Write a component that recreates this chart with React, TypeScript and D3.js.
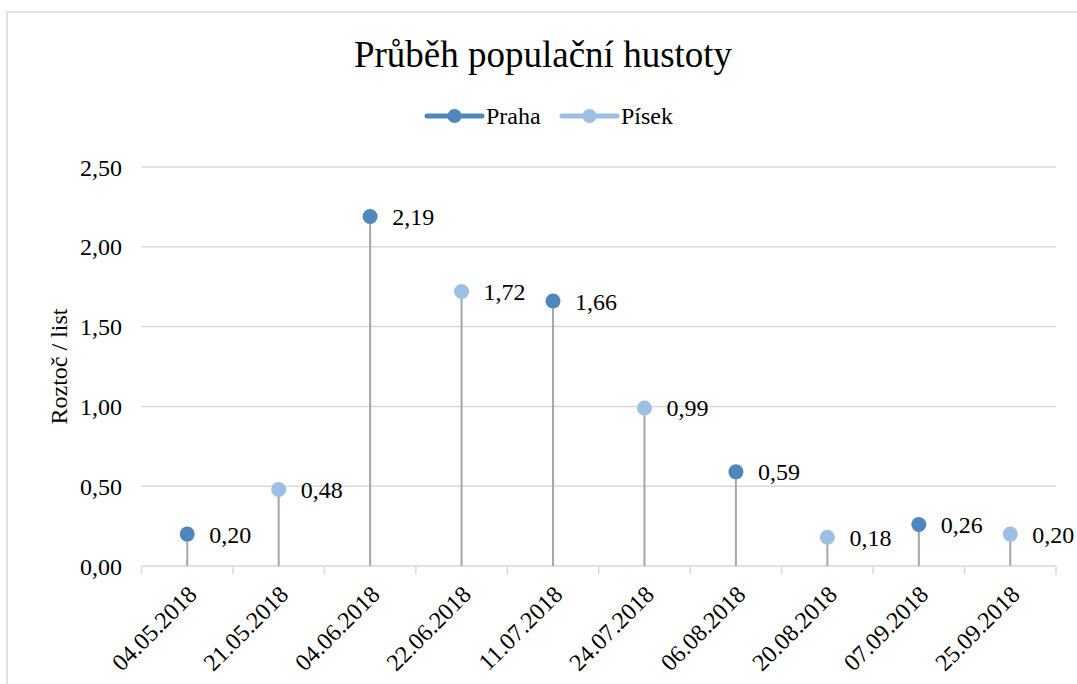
import React from "react";
import * as d3 from "d3";

const categories = ["04.05.2018","21.05.2018","04.06.2018","22.06.2018","11.07.2018","24.07.2018","06.08.2018","20.08.2018","07.09.2018","25.09.2018"];
const series = ["Praha", "Písek"];
const seriesOfPoint = ["Praha","Písek","Praha","Písek","Praha","Písek","Praha","Písek","Praha","Písek"];
const values = [0.20, 0.48, 2.19, 1.72, 1.66, 0.99, 0.59, 0.18, 0.26, 0.20];
const yTicks = [0, 0.5, 1.0, 1.5, 2.0, 2.5];

const colors: Record<string, string> = { "Praha": "#4f86bb", "Písek": "#9cbfe4" };
const FONT = "'Liberation Serif', 'Times New Roman', serif";

export default function App() {
  const W = 1077, H = 684;
  const left = 141.5, right = 1056, top = 167, bottom = 566;
  const x = d3.scaleBand<string>().domain(categories).range([left, right]);
  const y = d3.scaleLinear().domain([0, 2.5]).range([bottom, top]);
  const fmt = (v: number) => v.toFixed(2).replace(".", ",");
  const boundaries = categories.map((c) => x(c)!).concat([right]);

  return (
    <svg width={W} height={H} style={{ position: "absolute", left: 0, top: 0, background: "#fff" }} fontFamily={FONT}>
      <rect x={7} y={12} width={W + 10} height={H + 10} fill="#fff" stroke="#d9d9d9" strokeWidth={1.5} />
      <text x={543} y={67} textAnchor="middle" fontSize={37} fill="#000">Průběh populační hustoty</text>
      {/* legend */}
      {series.map((s, i) => {
        const lx = i === 0 ? 427 : 562;
        return (
          <g key={s}>
            <line x1={lx} x2={lx + 55} y1={116} y2={116} stroke={colors[s]} strokeWidth={5} strokeLinecap="round" />
            <circle cx={lx + 27.5} cy={116} r={7} fill={colors[s]} />
            <text x={lx + 59} y={124} fontSize={24} fill="#000">{s}</text>
          </g>
        );
      })}
      {/* gridlines */}
      {yTicks.map((t) => (
        <g key={t}>
          <line x1={left} x2={right} y1={y(t)} y2={y(t)} stroke="#d9d9d9" strokeWidth={1.5} />
          <text x={122} y={y(t) + 8.5} textAnchor="end" fontSize={24} fill="#000">{fmt(t)}</text>
        </g>
      ))}
      {/* x ticks */}
      {boundaries.map((b, i) => (
        <line key={i} x1={b} x2={b} y1={bottom} y2={bottom + 8} stroke="#d9d9d9" strokeWidth={1.5} />
      ))}
      <text transform={`translate(67,${(top + bottom) / 2}) rotate(-90)`} textAnchor="middle" fontSize={24} fill="#000">Roztoč / list</text>
      {/* drop lines and points */}
      {categories.map((c, i) => {
        const cx = x(c)! + x.bandwidth() / 2;
        const cy = y(values[i]);
        return (
          <g key={c}>
            <line x1={cx} x2={cx} y1={cy} y2={bottom} stroke="#a6a6a6" strokeWidth={2} />
            <circle cx={cx} cy={cy} r={7.5} fill={colors[seriesOfPoint[i]]} />
            <text x={cx + 22} y={cy + 8.5} fontSize={24} fill="#000">{fmt(values[i])}</text>
            <text transform={`translate(${cx + 11},${bottom + 30}) rotate(-45)`} textAnchor="end" fontSize={24} fill="#000">{c}</text>
          </g>
        );
      })}
    </svg>
  );
}
